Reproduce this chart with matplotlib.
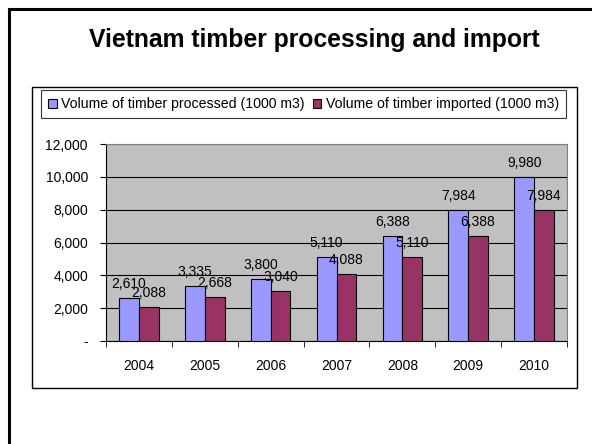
import matplotlib
matplotlib.use("Agg")
from matplotlib import pyplot as plt
from matplotlib.patches import Rectangle, Patch
from matplotlib.lines import Line2D
from matplotlib.ticker import FuncFormatter, FixedLocator
import numpy as np

years = ["2004", "2005", "2006", "2007", "2008", "2009", "2010"]
processed = [2610, 3335, 3800, 5110, 6388, 7984, 9980]
imported = [2088, 2668, 3040, 4088, 5110, 6388, 7984]
series_names = [
    "Volume of timber processed (1000 m3)",
    "Volume of timber imported (1000 m3)",
]
colors = ["#9999FF", "#993366"]

plt.rcParams["font.family"] = ["Liberation Sans", "DejaVu Sans"]

W, H = 592, 444
fig = plt.figure(figsize=(W / 100, H / 100), dpi=100, facecolor="w")


def fx(px):
    return px / W


def fy(py):
    return 1 - py / H


# slide frame (top and left edges only, rest is cropped)
fig.add_artist(Line2D([fx(8.5), 1.0], [fy(9), fy(9)], color="black", lw=2.2))
fig.add_artist(Line2D([fx(8.5), fx(8.5)], [fy(9), 0.0], color="black", lw=2.2))

fig.text(fx(314), fy(40), "Vietnam timber processing and import",
         ha="center", va="center", fontsize=17.8, fontweight="bold")

# chart box
fig.add_artist(Rectangle((fx(32), fy(388)), fx(577) - fx(32), fy(87) - fy(388),
                         transform=fig.transFigure, fill=False,
                         edgecolor="black", lw=1.0))

ax = fig.add_axes([fx(106), fy(341), fx(567) - fx(106), fy(144) - fy(341)])
ax.set_facecolor("#C0C0C0")

x = np.arange(len(years))
w = 0.3
b1 = ax.bar(x - w / 2, processed, w, color=colors[0], edgecolor="black", lw=0.8, zorder=3)
b2 = ax.bar(x + w / 2, imported, w, color=colors[1], edgecolor="black", lw=0.8, zorder=3)
ax.bar_label(b1, labels=[f"{v:,}" for v in processed], fontsize=10, padding=5)
ax.bar_label(b2, labels=[f"{v:,}" for v in imported], fontsize=10, padding=5)

ax.set_xlim(-0.5, len(years) - 0.5)
ax.set_ylim(0, 12000)
ax.set_yticks(np.arange(0, 12001, 2000))
ax.yaxis.set_major_formatter(FuncFormatter(lambda v, p: "-" if v == 0 else f"{int(v):,}"))
ax.grid(axis="y", color="black", lw=0.8, zorder=1)
ax.set_axisbelow(True)

ax.set_xticks(x)
ax.set_xticklabels(years)
ax.xaxis.set_minor_locator(FixedLocator(np.arange(-0.5, len(years), 1.0)))
ax.tick_params(axis="x", which="major", length=0, pad=13, labelsize=10)
ax.tick_params(axis="x", which="minor", length=4, direction="out", color="black")
ax.tick_params(axis="y", length=4, direction="out", pad=9, labelsize=10, color="black")

for s in ["top", "right"]:
    ax.spines[s].set_color("#808080")
ax.spines["left"].set_color("black")
ax.spines["bottom"].set_color("black")

handles = [Patch(facecolor=c, edgecolor="black", lw=0.8) for c in colors]
leg = fig.legend(handles, series_names, loc="upper left",
                 bbox_to_anchor=(fx(41), fy(90)), ncol=2, fontsize=10.2,
                 frameon=True, fancybox=False, edgecolor="black",
                 borderpad=0.5, handlelength=0.6, handleheight=0.6,
                 handletextpad=0.3, columnspacing=0.6, borderaxespad=0)
leg.get_frame().set_linewidth(0.8)

fig.savefig("out.png", dpi=100)
